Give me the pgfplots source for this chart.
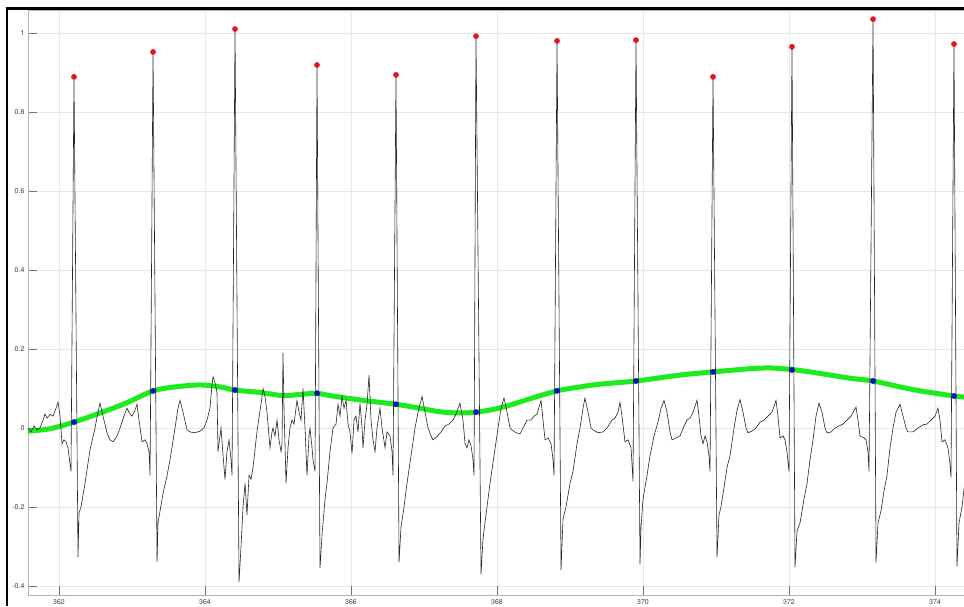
\documentclass[border=0pt]{standalone}
\usepackage{fontspec}
\setmainfont{TeX Gyre Heros}
\usepackage{pgfplots}
\pgfplotsset{compat=1.18}
\usepackage{pgfplotstable}
\definecolor{ecggreen}{RGB}{30,235,30}
\definecolor{peakred}{RGB}{235,20,20}
\definecolor{baseblue}{RGB}{10,10,200}

\pgfplotstableread{
t y
361.575 0.000
361.616 -0.010
361.658 0.005
361.699 -0.005
361.740 0.000
361.781 0.020
361.808 0.035
361.836 0.025
361.877 0.035
361.918 0.030
361.959 0.050
361.986 0.066
362.014 0.030
362.041 -0.040
362.068 -0.030
362.096 -0.035
362.123 -0.050
362.164 -0.110
362.205 0.889
362.260 -0.327
362.274 -0.215
362.301 -0.200
362.356 -0.140
362.425 -0.055
362.493 0.000
362.534 0.040
362.562 0.063
362.603 0.030
362.658 -0.013
362.699 -0.030
362.740 -0.035
362.795 -0.020
362.836 0.000
362.890 0.030
362.932 0.050
362.973 0.035
363.000 0.030
363.041 0.045
363.068 0.060
363.096 0.020
363.137 -0.035
363.178 -0.030
363.205 -0.040
363.233 -0.060
363.247 -0.120
363.288 0.952
363.343 -0.340
363.356 -0.240
363.384 -0.210
363.425 -0.165
363.480 -0.120
363.521 -0.080
363.589 0.000
363.630 0.050
363.658 0.070
363.699 0.040
363.753 -0.005
363.795 -0.010
363.863 -0.012
363.932 -0.008
363.986 0.000
364.027 0.020
364.068 0.050
364.096 0.110
364.110 0.130
364.137 0.115
364.164 0.090
364.178 -0.060
364.205 -0.020
364.219 0.000
364.247 -0.070
364.274 -0.130
364.301 -0.060
364.329 -0.030
364.356 -0.080
364.370 -0.120
364.411 1.010
364.466 -0.390
364.493 -0.300
364.521 -0.200
364.548 -0.140
364.575 -0.220
364.603 -0.120
364.630 -0.130
364.658 -0.100
364.699 -0.030
364.726 0.010
364.767 0.060
364.795 0.100
364.822 0.080
364.849 0.040
364.890 -0.050
364.918 -0.010
364.932 0.000
364.959 -0.020
364.986 0.020
365.014 -0.030
365.041 -0.060
365.055 -0.040
365.068 0.190
365.082 0.050
365.110 -0.140
365.137 -0.050
365.164 0.000
365.192 0.020
365.219 0.010
365.260 0.070
365.288 0.040
365.315 0.020
365.342 0.100
365.370 0.000
365.397 -0.120
365.425 -0.020
365.438 0.000
365.466 -0.050
365.479 -0.080
365.507 -0.110
365.534 0.919
365.575 -0.355
365.603 -0.270
365.644 -0.180
365.671 -0.140
365.712 -0.060
365.753 0.000
365.795 0.010
365.822 0.060
365.849 0.030
365.877 0.080
365.904 0.050
365.932 0.070
365.959 0.010
365.986 -0.010
366.014 -0.065
366.041 0.020
366.068 0.030
366.096 -0.010
366.123 0.063
366.151 0.000
366.164 -0.050
366.192 0.020
366.219 0.060
366.247 0.134
366.274 0.020
366.301 -0.030
366.329 -0.060
366.356 0.000
366.397 0.050
366.425 0.000
366.466 -0.050
366.493 -0.010
366.534 -0.020
366.562 -0.060
366.575 -0.120
366.616 0.894
366.658 -0.340
366.685 -0.250
366.726 -0.200
366.767 -0.140
366.822 -0.070
366.877 0.000
366.918 0.040
366.973 0.080
367.014 0.040
367.055 0.000
367.096 -0.020
367.123 -0.030
367.178 -0.022
367.233 -0.010
367.288 0.005
367.342 0.010
367.397 0.020
367.438 0.035
367.493 0.063
367.534 0.020
367.562 -0.040
367.589 -0.050
367.616 -0.030
367.644 -0.045
367.671 -0.080
367.685 -0.120
367.712 0.992
367.781 -0.370
367.808 -0.280
367.849 -0.220
367.904 -0.140
367.959 -0.070
368.014 0.000
368.055 0.050
368.096 0.076
368.137 0.040
368.178 0.000
368.205 -0.005
368.260 -0.012
368.315 -0.015
368.370 0.005
368.411 0.020
368.466 0.020
368.507 0.030
368.548 0.035
368.603 0.070
368.630 0.020
368.658 -0.030
368.699 -0.025
368.740 -0.040
368.767 -0.080
368.781 -0.120
368.822 0.980
368.877 -0.360
368.904 -0.230
368.945 -0.200
369.000 -0.140
369.041 -0.110
369.096 -0.040
369.137 0.000
369.178 0.050
369.205 0.076
369.247 0.040
369.288 0.000
369.315 -0.005
369.384 -0.012
369.452 -0.010
369.507 0.000
369.575 0.020
369.616 0.025
369.658 0.040
369.685 0.065
369.712 0.030
369.753 -0.035
369.795 -0.030
369.836 -0.050
369.863 -0.135
369.904 0.982
369.959 -0.345
369.973 -0.250
370.000 -0.180
370.055 -0.120
370.096 -0.070
370.151 -0.020
370.205 0.015
370.247 0.050
370.288 0.070
370.329 0.040
370.370 -0.010
370.397 -0.030
370.452 -0.025
370.507 -0.020
370.562 0.005
370.603 0.020
370.644 0.025
370.685 0.040
370.740 0.070
370.767 0.030
370.795 -0.020
370.822 -0.040
370.849 -0.020
370.877 -0.035
370.904 -0.070
370.918 -0.110
370.959 0.889
371.014 -0.327
371.041 -0.220
371.068 -0.200
371.110 -0.150
371.151 -0.100
371.192 -0.070
371.247 0.000
371.288 0.045
371.329 0.072
371.370 0.040
371.411 0.000
371.438 -0.012
371.493 -0.008
371.548 0.000
371.603 0.015
371.658 0.020
371.712 0.030
371.767 0.040
371.822 0.070
371.849 0.030
371.877 -0.025
371.918 -0.020
371.945 -0.030
371.973 -0.060
372.000 -0.110
372.041 0.965
372.082 -0.352
372.110 -0.260
372.151 -0.240
372.205 -0.180
372.247 -0.140
372.288 -0.080
372.329 -0.030
372.370 0.030
372.411 0.063
372.452 0.040
372.493 0.000
372.521 -0.013
372.575 -0.010
372.630 0.000
372.685 0.005
372.740 0.010
372.795 0.020
372.849 0.030
372.877 0.040
372.918 0.053
372.945 0.020
372.973 -0.020
373.027 -0.025
373.055 -0.030
373.082 -0.060
373.096 -0.110
373.151 1.035
373.192 -0.340
373.219 -0.240
373.260 -0.210
373.301 -0.160
373.342 -0.120
373.384 -0.050
373.425 0.000
373.466 0.040
373.521 0.060
373.562 0.030
373.603 0.000
373.630 -0.010
373.699 -0.010
373.767 0.000
373.836 0.008
373.890 0.010
373.945 0.020
374.000 0.030
374.041 0.050
374.068 0.020
374.096 -0.035
374.137 -0.030
374.178 -0.050
374.205 -0.090
374.219 -0.125
374.260 0.972
374.301 -0.350
374.329 -0.240
374.370 -0.200
374.397 -0.155
374.452 -0.100
}\ecg

\pgfplotstableread{
t y
361.575 -0.008
361.877 -0.002
362.205 0.015
362.562 0.038
362.904 0.062
363.288 0.094
363.589 0.104
363.932 0.109
364.205 0.104
364.411 0.096
364.753 0.090
365.068 0.082
365.301 0.085
365.534 0.088
365.712 0.082
366.123 0.071
366.616 0.060
366.945 0.050
367.219 0.041
367.493 0.038
367.712 0.040
367.973 0.048
368.178 0.058
368.452 0.074
368.822 0.094
369.137 0.104
369.411 0.111
369.904 0.119
370.507 0.134
370.959 0.142
371.466 0.150
371.740 0.152
372.041 0.148
372.288 0.142
372.562 0.134
372.836 0.126
373.151 0.119
373.521 0.104
373.795 0.094
374.260 0.081
374.479 0.077
}\base

\pgfplotstableread{
t y
362.205 0.889
363.288 0.952
364.411 1.010
365.534 0.919
366.616 0.894
367.712 0.992
368.822 0.980
369.904 0.982
370.959 0.889
372.041 0.965
373.151 1.035
374.260 0.972
}\rpeaks

\pgfplotstableread{
t y
362.205 0.015
363.288 0.094
364.411 0.096
365.534 0.088
366.616 0.060
367.712 0.040
368.822 0.094
369.904 0.119
370.959 0.142
372.041 0.147
373.151 0.119
374.260 0.081
}\bpoints

\begin{document}
\begin{tikzpicture}[x=1pt,y=1pt]
\useasboundingbox (0,0) rectangle (964,606);
\clip (0,0) rectangle (964,606);
\fill[white] (0,0) rectangle (964,606);
\begin{axis}[
  at={(28pt,11pt)}, anchor=south west,
  scale only axis, width=950.8pt, height=585pt,
  xmin=361.575, xmax=374.6, ymin=-0.4228, ymax=1.0582,
  xtick={362,364,366,368,370,372,374},
  ytick={-0.4,-0.2,0,0.2,0.4,0.6,0.8,1},
  grid=major,
  major grid style={draw=black!9, line width=0.6pt},
  axis line style={draw=black!30, line width=0.6pt},
  tick align=inside,
  xtick pos=bottom, ytick pos=left,
  major tick length=9pt,
  tick style={draw=black!55, line width=0.6pt},
  tick label style={font=\fontsize{7}{8}\selectfont, text=black!75},
  xticklabel style={yshift=-1pt},
  yticklabel style={xshift=0pt},
  /pgf/number format/assume math mode=true,
  clip=true,
]
\addplot[ecggreen, line width=5pt, smooth, tension=0.5] table {\base};
\addplot[black!85, line width=0.6pt] table {\ecg};
\addplot[only marks, mark=*, mark size=2.6pt, peakred, mark options={draw=peakred, fill=peakred}] table {\rpeaks};
\addplot[only marks, mark=*, mark size=2.6pt, baseblue, mark options={draw=baseblue, fill=baseblue}] table {\bpoints};
\end{axis}
\draw[black, line width=2.4pt] (7,0) -- (7,597.5) -- (964,597.5);
\end{tikzpicture}
\end{document}
